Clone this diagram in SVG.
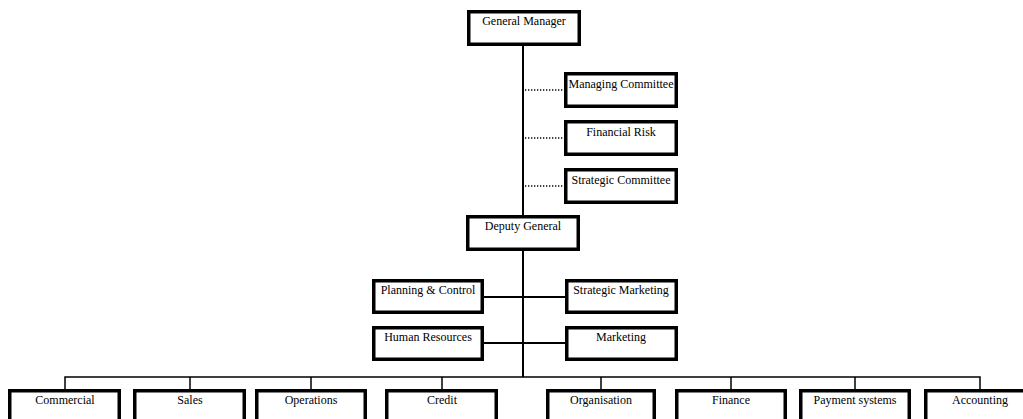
<svg xmlns="http://www.w3.org/2000/svg" width="1023" height="419" viewBox="0 0 1023 419">
<style>
.box{fill:#fff;stroke:#000;stroke-width:3.5}
.t{font-family:"Liberation Serif","Times New Roman",serif;font-size:12px;fill:#000;text-anchor:middle}
.ln{stroke:#000;stroke-width:2;fill:none}
.bus{stroke:#000;stroke-width:1.5;fill:none}
.dot{stroke:#000;stroke-width:1.3;stroke-dasharray:1.3 1.7;fill:none}
</style>
<rect width="1023" height="419" fill="#fff"/>
<g id="connectors">
<line class="ln" x1="523" y1="46" x2="523" y2="215"/>
<line class="ln" x1="523" y1="251" x2="523" y2="377"/>
<line class="dot" x1="525" y1="90" x2="564" y2="90"/>
<line class="dot" x1="525" y1="138" x2="564" y2="138"/>
<line class="dot" x1="525" y1="186" x2="564" y2="186"/>
<line class="ln" x1="484" y1="297" x2="565" y2="297"/>
<line class="ln" x1="484" y1="343" x2="565" y2="343"/>
<polyline class="bus" points="65,389 65,377 980,377 980,389"/>
<line class="bus" x1="190" y1="377" x2="190" y2="389"/>
<line class="bus" x1="311" y1="377" x2="311" y2="389"/>
<line class="bus" x1="442" y1="377" x2="442" y2="389"/>
<line class="bus" x1="601" y1="377" x2="601" y2="389"/>
<line class="bus" x1="731" y1="377" x2="731" y2="389"/>
<line class="bus" x1="855" y1="377" x2="855" y2="389"/>
</g>
<g id="general-manager"><rect class="box" x="468.75" y="11.75" width="110.5" height="32.5"/><text class="t" x="524" y="25">General Manager</text></g>
<g id="managing-committee"><rect class="box" x="565.75" y="73.75" width="110.5" height="32.5"/><text class="t" x="621" y="88">Managing Committee</text></g>
<g id="financial-risk"><rect class="box" x="565.75" y="121.75" width="110.5" height="32.5"/><text class="t" x="621" y="136">Financial Risk</text></g>
<g id="strategic-committee"><rect class="box" x="565.75" y="169.75" width="110.5" height="32.5"/><text class="t" x="621" y="184">Strategic Committee</text></g>
<g id="deputy-general"><rect class="box" x="467.75" y="216.75" width="110.5" height="32.5"/><text class="t" x="523" y="230">Deputy General</text></g>
<g id="planning-control"><rect class="box" x="373.75" y="280.75" width="108.5" height="31.5"/><text class="t" x="428" y="294">Planning &amp; Control</text></g>
<g id="strategic-marketing"><rect class="box" x="566.75" y="280.75" width="109.5" height="31.5"/><text class="t" x="621" y="294">Strategic Marketing</text></g>
<g id="human-resources"><rect class="box" x="373.75" y="327.75" width="108.5" height="31.5"/><text class="t" x="428" y="341">Human Resources</text></g>
<g id="marketing"><rect class="box" x="566.75" y="327.75" width="109.5" height="31.5"/><text class="t" x="621" y="341">Marketing</text></g>
<g id="commercial"><rect class="box" x="9.75" y="390.75" width="109.5" height="40"/><text class="t" x="65" y="404">Commercial</text></g>
<g id="sales"><rect class="box" x="134.75" y="390.75" width="109.5" height="40"/><text class="t" x="190" y="404">Sales</text></g>
<g id="operations"><rect class="box" x="256.75" y="390.75" width="108.5" height="40"/><text class="t" x="311" y="404">Operations</text></g>
<g id="credit"><rect class="box" x="386.75" y="390.75" width="109.5" height="40"/><text class="t" x="442" y="404">Credit</text></g>
<g id="organisation"><rect class="box" x="547.75" y="390.75" width="106.5" height="40"/><text class="t" x="601" y="404">Organisation</text></g>
<g id="finance"><rect class="box" x="676.75" y="390.75" width="108.5" height="40"/><text class="t" x="731" y="404">Finance</text></g>
<g id="payment-systems"><rect class="box" x="800.75" y="390.75" width="108.5" height="40"/><text class="t" x="855" y="404">Payment systems</text></g>
<g id="accounting"><rect class="box" x="925.75" y="390.75" width="108.5" height="40"/><text class="t" x="980" y="404">Accounting</text></g>
</svg>
